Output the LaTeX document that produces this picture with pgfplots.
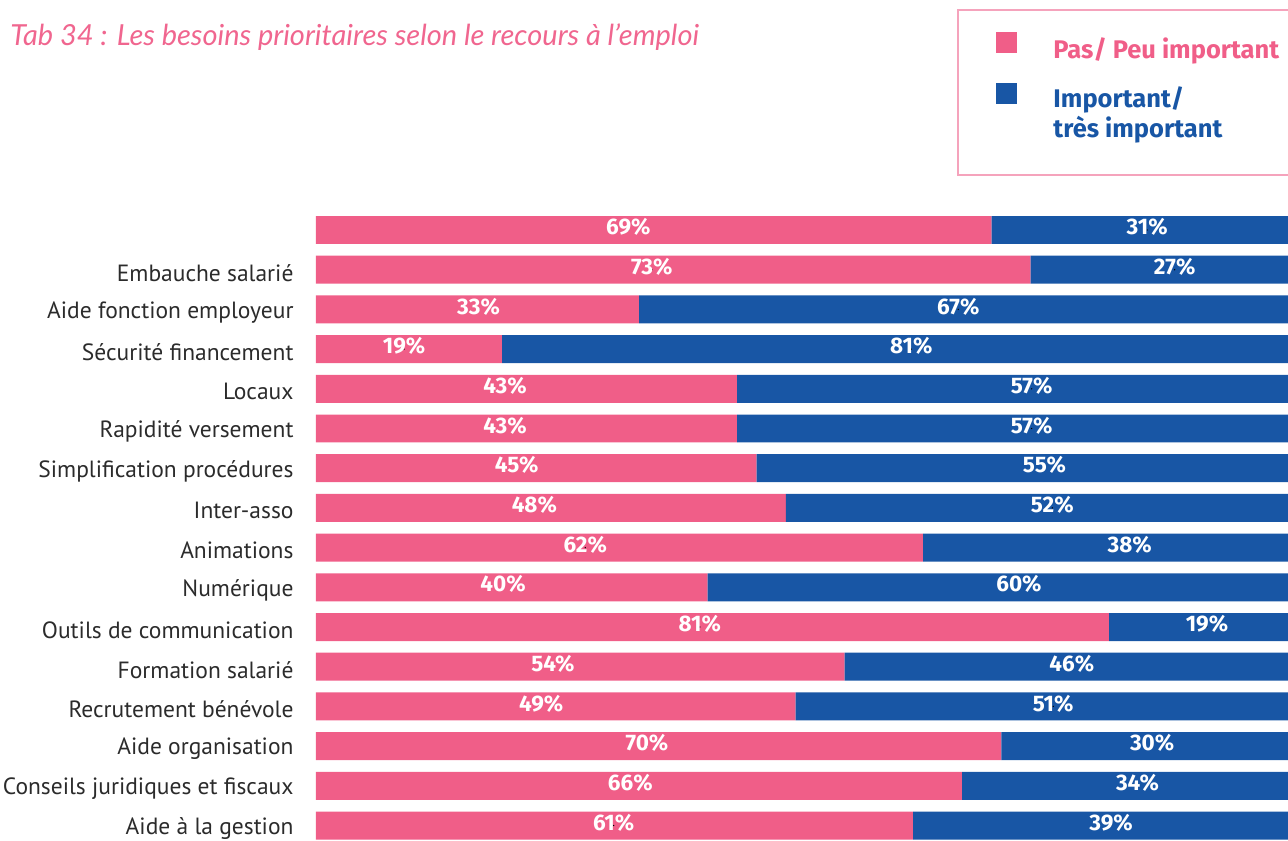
\documentclass[border=0pt]{standalone}
\usepackage{fontspec}
\usepackage{pgfplots}
\pgfplotsset{compat=1.18}
\setmainfont{PT Sans}
\newfontfamily\titlefont{Lato}
\newfontfamily\numfont{Fira Sans}

\definecolor{pinkc}{HTML}{F05E88}
\definecolor{bluec}{HTML}{1856A5}
\definecolor{titlepink}{HTML}{F0668F}
\definecolor{legborder}{HTML}{F5A3BC}
\definecolor{labgray}{HTML}{2B2B2B}

\begin{document}
\begin{tikzpicture}
\useasboundingbox (0,0) rectangle (515.2pt,336.4pt);

% one pixel of the reference = 0.4pt, measured from the top-left corner
\begin{scope}[x=0.4pt, y=-0.4pt, yshift=336.4pt]
% title
\node[anchor=west, inner sep=0pt, text=titlepink, font=\titlefont\itshape\fontsize{11.6}{13}\selectfont]
  at (10,37) {Tab 34 : Les besoins prioritaires selon le recours à l’emploi};

% legend
\draw[legborder, line width=0.6pt] (958,10) rectangle (1320,175);
\fill[pinkc] (996,32) rectangle (1017,53);
\fill[bluec] (996,83) rectangle (1017,104);
\node[anchor=west, inner sep=0pt, text=pinkc, font=\numfont\bfseries\fontsize{10.2}{12}\selectfont]
  at (1053,51) {Pas/ Peu important};
\node[anchor=north west, inner sep=0pt, align=left, text=bluec, font=\numfont\bfseries\fontsize{10.2}{12.2}\selectfont]
  at (1053,86) {Important/\\très important};
\end{scope}

\begin{axis}[
  at={(126.4pt,0pt)}, anchor=south west,
  scale only axis, width=388.8pt, height=250pt,
  xmin=0, xmax=99.28, ymin=0.647, ymax=16.39,
  y dir=reverse,
  axis line style={draw=none},
  tick style={draw=none},
  xtick=\empty,
  ytick={2,...,16},
  yticklabels={Embauche salarié, Aide fonction employeur, Sécurité financement,
    Locaux, Rapidité versement, Simplification procédures, Inter-asso,
    Animations, Numérique, Outils de communication, Formation salarié,
    Recrutement bénévole, Aide organisation, Conseils juridiques et fiscaux,
    Aide à la gestion},
  yticklabel style={anchor=east, inner sep=0pt, xshift=-8.8pt, yshift=-1.2pt,
    text=labgray, font=\fontsize{9.4}{11}\selectfont},
  major tick length=0pt,
  bar width=0.705,
  clip=true,
]
% Pas/ Peu important
\addplot[xbar, stack plots=x, fill=pinkc, draw=none] coordinates {
  (69,1) (73,2) (33,3) (19,4) (43,5) (43,6) (45,7) (48,8)
  (62,9) (40,10) (81,11) (54,12) (49,13) (70,14) (66,15) (61,16)
};
% Important/ très important
\addplot[xbar, stack plots=x, fill=bluec, draw=none] coordinates {
  (31,1) (27,2) (67,3) (81,4) (57,5) (57,6) (55,7) (52,8)
  (38,9) (60,10) (19,11) (46,12) (51,13) (30,14) (34,15) (39,16)
};
% value labels
\addplot[stack plots=false, only marks, mark=*, mark size=0.01pt,
  mark options={draw=none, fill=none},
  point meta=explicit symbolic,
  nodes near coords={\pgfplotspointmeta\%},
  every node near coord/.style={anchor=center, text=white, inner sep=0pt,
    yshift=1.2pt, font=\numfont\bfseries\fontsize{9}{10}\selectfont},
] table[meta=v] {
x y v
31.9 1 69
34.3 2 73
16.6 3 33
9.0 4 19
19.3 5 43
19.3 6 43
20.5 7 45
22.3 8 48
27.5 9 62
19.1 10 40
39.2 11 81
24.2 12 54
23.0 13 49
33.8 14 70
32.1 15 66
30.4 16 61
84.9 1 31
87.7 2 27
65.6 3 67
60.8 4 81
73.1 5 57
73.1 6 57
74.4 7 55
75.2 8 52
83.1 9 38
71.8 10 60
91.0 11 19
77.2 12 46
75.3 13 51
85.4 14 30
83.9 15 34
81.2 16 39
};
\end{axis}
\end{tikzpicture}
\end{document}
